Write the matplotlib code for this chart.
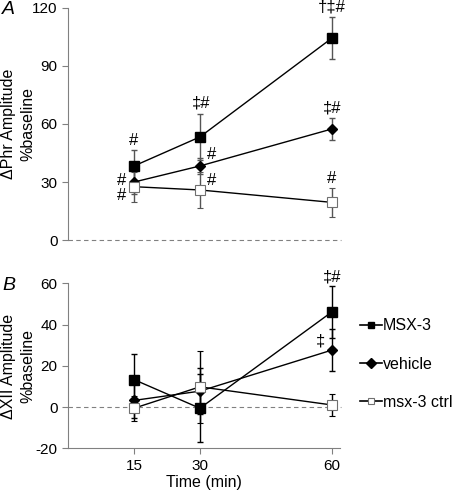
"""Phr and XII amplitude over time, two stacked panels."""
import matplotlib
matplotlib.use('Agg')
import matplotlib.pyplot as plt
from matplotlib.lines import Line2D

plt.rcParams['font.family'] = ['Liberation Sans', 'DejaVu Sans']
plt.rcParams['axes.unicode_minus'] = False

times = [15, 30, 60]
series_names = ['MSX-3', 'vehicle', 'msx-3 ctrl']

# panel A: delta Phr amplitude (% baseline)
phr_msx = [38.3, 53.3, 104.3]
phr_msx_err = [8.3, 11.7, 10.8]
phr_veh = [30.0, 38.3, 57.4]
phr_veh_err = [6.0, 4.0, 5.6]
phr_ctrl = [27.6, 25.9, 19.5]
phr_ctrl_err = [7.8, 9.5, 7.4]

# panel B: delta XII amplitude (% baseline)
xii_msx = [13.3, -0.6, 46.1]
xii_msx_err = [12.2, 16.6, 12.7]
xii_veh = [3.2, 7.7, 27.6]
xii_veh_err = [8.5, 11.0, 10.1]
xii_ctrl = [-0.6, 9.8, 1.0]
xii_ctrl_err = [6.0, 17.4, 5.4]

# significance marks: (time, y value, text, ha)
phr_marks = [(15, 51.7, '#', 'center'), (13.2, 31.0, '#', 'right'),
             (13.2, 22.8, '#', 'right'), (30.2, 71.1, '‡#', 'center'),
             (31.5, 44.0, '#', 'left'), (31.5, 31.0, '#', 'left'),
             (60, 120.3, '†‡#', 'center'), (60, 68.3, '‡#', 'center'),
             (60, 32.0, '#', 'center')]
xii_marks = [(60, 63.3, '‡#', 'center'), (58.4, 32.0, '‡', 'right')]

styles = [dict(marker='s', ms=6.5, mfc='black', mec='black'),
          dict(marker='D', ms=5.5, mfc='black', mec='black'),
          dict(marker='s', ms=6.5, mfc='white', mec='#707070', mew=0.8)]

fig = plt.figure(figsize=(4.54, 4.92), dpi=100)
axA = fig.add_axes([0.150, 0.512, 0.600, 0.472])
axB = fig.add_axes([0.150, 0.089, 0.600, 0.335])


def draw(ax, data, ecolor):
    for (vals, errs), st in zip(data, styles):
        ax.errorbar(times, vals, yerr=errs, color='black', lw=1.0,
                    ecolor=ecolor, elinewidth=1.0, capsize=2.5, capthick=1.0,
                    zorder=3, **st)
    ax.axhline(0, color='#808080', lw=0.8, ls=(0, (4, 3)), zorder=1,
               clip_on=False)
    ax.set_xlim(0, 62)
    for s in ['top', 'right']:
        ax.spines[s].set_visible(False)
    for s in ['left', 'bottom']:
        ax.spines[s].set_color('#808080')
    ax.tick_params(colors='#808080', labelcolor='black', labelsize=11,
                   length=4, direction='out')


draw(axA, [(phr_msx, phr_msx_err), (phr_veh, phr_veh_err),
           (phr_ctrl, phr_ctrl_err)], '#555555')
axA.set_ylim(0, 120)
axA.set_yticks([0, 30, 60, 90, 120])
axA.spines['bottom'].set_visible(False)
axA.set_xticks([])
for x, y, t, ha in phr_marks:
    axA.text(x, y, t, ha=ha, va='center', fontsize=12)

draw(axB, [(xii_msx, xii_msx_err), (xii_veh, xii_veh_err),
           (xii_ctrl, xii_ctrl_err)], 'black')
axB.set_ylim(-20, 60)
axB.set_yticks([-20, 0, 20, 40, 60])
axB.set_xticks(times)
axB.set_xlabel('Time (min)', fontsize=11.5, labelpad=2)
for x, y, t, ha in xii_marks:
    axB.text(x, y, t, ha=ha, va='center', fontsize=12)

fig.text(0.040, 0.748, 'ΔPhr Amplitude\n%baseline', rotation=90,
         ha='center', va='center', fontsize=11.5, linespacing=1.3,
         multialignment='center')
fig.text(0.040, 0.256, 'ΔXII Amplitude\n%baseline', rotation=90,
         ha='center', va='center', fontsize=11.5, linespacing=1.3,
         multialignment='center')

legend_styles = [dict(st, ms=5.0) for st in styles]
handles = [Line2D([], [], color='black', lw=1.2, **st) for st in legend_styles]
fig.legend(handles, series_names, loc='center left',
           bbox_to_anchor=(0.793, 0.26), frameon=False, fontsize=11.5,
           handlelength=1.35, handletextpad=0.1, labelspacing=1.45,
           borderpad=0, borderaxespad=0)

fig.text(0.005, 0.98, 'A', fontsize=14, style='italic', va='center')
fig.text(0.005, 0.42, 'B', fontsize=14, style='italic', va='center')

fig.savefig('out.png', dpi=100)
